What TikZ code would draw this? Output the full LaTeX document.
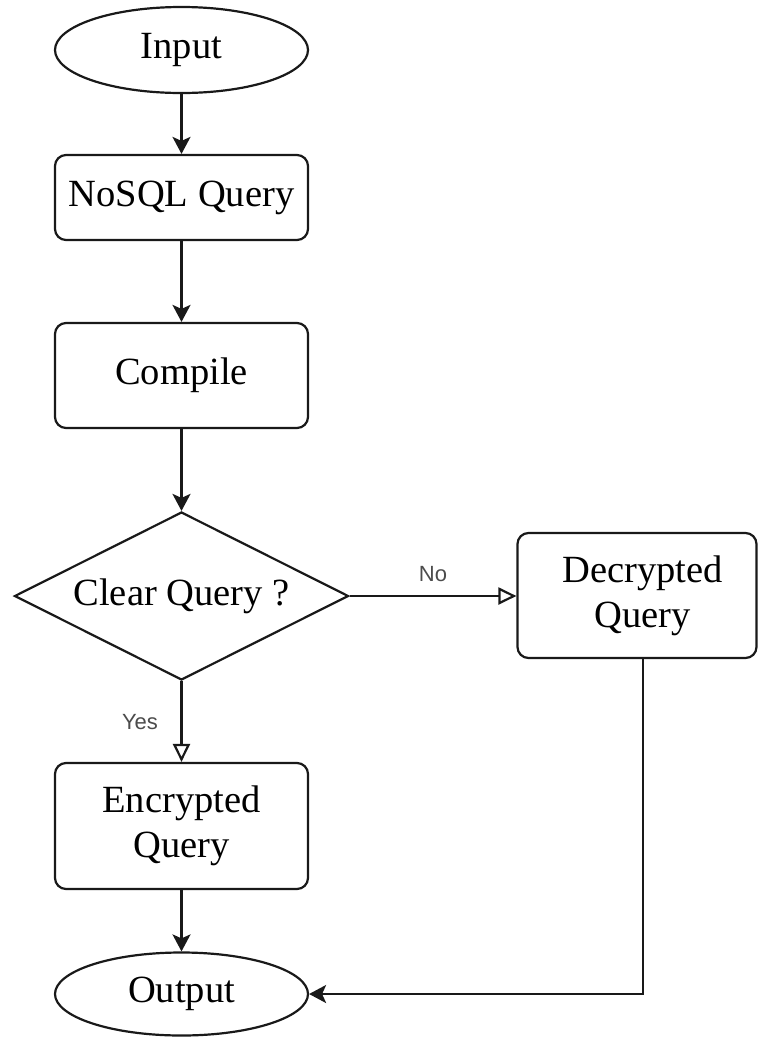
\documentclass[tikz,border=0pt]{standalone}
\usepackage{fontspec}
\setmainfont{Liberation Serif}
\newfontfamily\labelfont{Liberation Sans}
\usetikzlibrary{shapes.geometric,arrows.meta}

\tikzset{
  base/.style={draw=black!90, line width=2.2pt, font=\fontsize{38.5}{45}\selectfont, align=center, inner sep=0pt},
  terminal/.style={base, ellipse, minimum width=253pt},
  stepbox/.style={base, rectangle, rounded corners=11pt},
  decision/.style={base, diamond, aspect=2, minimum width=334pt, minimum height=168pt},
  flow/.style={draw=black!90, line width=2.2pt, -{Stealth[length=17pt,width=18pt,inset=4pt]}},
  branch/.style={draw=black!90, line width=2.2pt, -{Triangle[open,length=18pt,width=17pt]}},
  edgelabel/.style={font=\labelfont\fontsize{22}{26}\selectfont, text=black!70},
}

\begin{document}
\begin{tikzpicture}[x=1pt, y=-1pt]
  \useasboundingbox (0,0) rectangle (758,1037);

  % nodes of the flow
  \node[terminal, minimum height=86pt] (in) at (181.5,50) {Input};
  \node[stepbox, minimum width=253pt, minimum height=85pt] (nosql) at (181.5,197.5) {NoSQL Query};
  \node[stepbox, minimum width=253pt, minimum height=105pt] (comp) at (181.5,375.5) {Compile};
  \node[decision] (dec) at (181.5,596) {Clear Query ?};
  \node[stepbox, minimum width=239pt, minimum height=125pt] (decr) at (637,595.5)
    {\hspace*{11pt}Decrypted\\\hspace*{11pt}Query};
  \node[stepbox, minimum width=253pt, minimum height=126pt] (encr) at (181.5,826) {Encrypted\\Query};
  \node[terminal, minimum height=83pt] (out) at (181.5,994) {Output};

  % connectors
  \draw[flow] (in) -- (nosql);
  \draw[flow] (nosql) -- (comp);
  \draw[flow] (comp) -- (dec);
  \draw[branch] (dec.east) -- (decr.west |- dec.east);
  \draw[branch] (dec.south) -- (encr.north);
  \draw[flow] (encr) -- (out);
  \draw[flow] (decr.south) ++(6,0) |- (out.east);

  % branch labels
  \node[edgelabel] (nolabel) at (433,574) {No};
  \node[edgelabel] (yeslabel) at (140,722) {Yes};
\end{tikzpicture}
\end{document}
